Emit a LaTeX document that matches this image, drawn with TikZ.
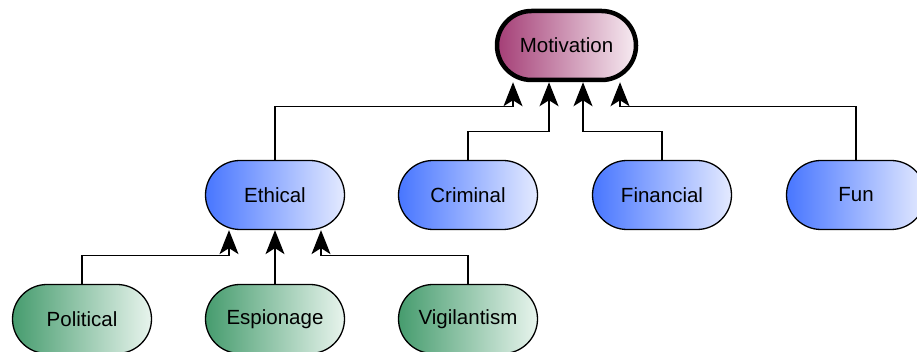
\documentclass[tikz,border=0pt]{standalone}
\usepackage{xcolor}
\usepackage{fontspec}
\setmainfont{Liberation Sans}
\usepackage{tikz}
\usetikzlibrary{arrows.meta}

\definecolor{motL}{RGB}{164,62,118}
\definecolor{motR}{RGB}{247,236,242}
\definecolor{blueL}{RGB}{72,118,255}
\definecolor{blueR}{RGB}{228,234,255}
\definecolor{greenL}{RGB}{70,156,110}
\definecolor{greenR}{RGB}{232,244,237}

\begin{document}
\begin{tikzpicture}[
  pill/.style={draw,line width=1.3pt,rounded corners=34.5pt,
    minimum width=139pt,minimum height=69pt,inner sep=0pt,
    font=\fontsize{20.5}{24}\selectfont},
  topbox/.style={pill,line width=4.5pt,left color=motL,right color=motR},
  midbox/.style={pill,left color=blueL,right color=blueR},
  lowbox/.style={pill,left color=greenL,right color=greenR},
  arr/.style={-{Stealth[length=24pt,width=19pt,inset=6pt]},line width=1.3pt}]
  \useasboundingbox (0pt,0pt) rectangle (917pt,352pt);

  % Top node
  \node[topbox] (motivation) at (566.5pt,306.5pt) {Motivation};

  % Middle row
  \node[midbox] (ethical)   at (275pt,157pt) {Ethical};
  \node[midbox] (criminal)  at (468pt,157pt) {Criminal};
  \node[midbox] (financial) at (662pt,157pt) {Financial};
  \node[midbox] (fun)       at (856pt,157pt) {Fun};

  % Bottom row
  \node[lowbox] (political)   at (82pt,33pt)  {Political};
  \node[lowbox] (espionage)   at (275pt,33pt) {Espionage};
  \node[lowbox] (vigilantism) at (468pt,33pt) {Vigilantism};

  % Links to Motivation
  \draw[arr] (ethical.north)   -- ++(0,53pt) -| ([xshift=-53.5pt]motivation.south);
  \draw[arr] (criminal.north)  -- ++(0,28pt) -| ([xshift=-17.5pt]motivation.south);
  \draw[arr] (financial.north) -- ++(0,28pt) -| ([xshift=16.5pt]motivation.south);
  \draw[arr] (fun.north)       -- ++(0,53pt) -| ([xshift=53.5pt]motivation.south);

  % Links to Ethical
  \draw[arr] (political.north)   -- ++(0,28pt) -| ([xshift=-46pt]ethical.south);
  \draw[arr] (espionage.north)   -- (ethical.south);
  \draw[arr] (vigilantism.north) -- ++(0,28pt) -| ([xshift=46pt]ethical.south);
\end{tikzpicture}
\end{document}
